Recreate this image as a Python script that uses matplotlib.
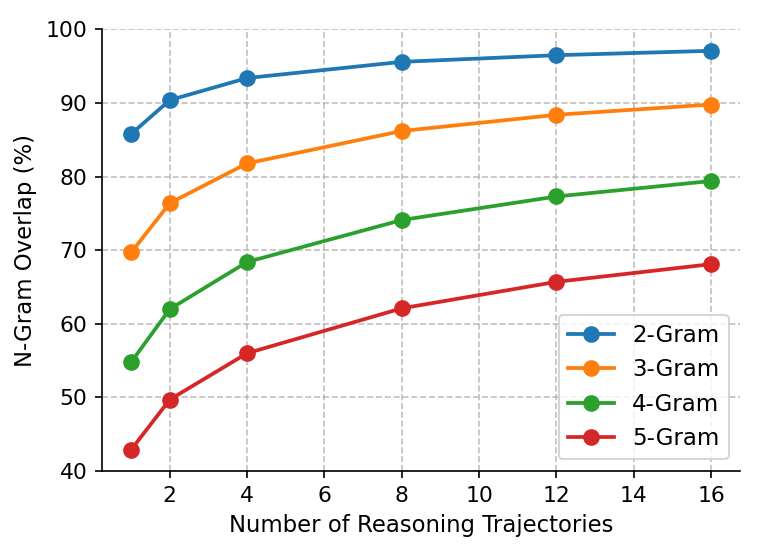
import numpy as np
import matplotlib.pyplot as plt

# number of reasoning trajectories and n-gram overlap (%)
trajectories = [1, 2, 4, 8, 12, 16]
gram2 = [85.8, 90.4, 93.4, 95.6, 96.5, 97.1]
gram3 = [69.7, 76.4, 81.8, 86.2, 88.4, 89.8]
gram4 = [54.8, 62.0, 68.4, 74.1, 77.3, 79.4]
gram5 = [42.9, 49.7, 56.0, 62.1, 65.7, 68.1]
labels = ["2-Gram", "3-Gram", "4-Gram", "5-Gram"]

fig = plt.figure(figsize=(757 / 150, 556 / 150), dpi=150)
ax = fig.add_axes([0.135, 0.153, 0.8425, 0.794])

for vals, lab in zip([gram2, gram3, gram4, gram5], labels):
    ax.plot(trajectories, vals, marker="o", linewidth=1.8, markersize=7, label=lab)

ax.set_ylim(40, 100)
ax.set_xticks([2, 4, 6, 8, 10, 12, 14, 16])
ax.set_yticks(np.arange(40, 101, 10))
ax.tick_params(labelsize=10.5)
ax.set_xlabel("Number of Reasoning Trajectories", fontsize=10.9)
ax.set_ylabel("N-Gram Overlap (%)", fontsize=10.9)
ax.grid(True, linestyle="--", alpha=0.8)
ax.spines["top"].set_visible(False)
ax.spines["right"].set_visible(False)
ax.legend(loc="lower right", fontsize=11)

fig.savefig("out.png", dpi=150)
